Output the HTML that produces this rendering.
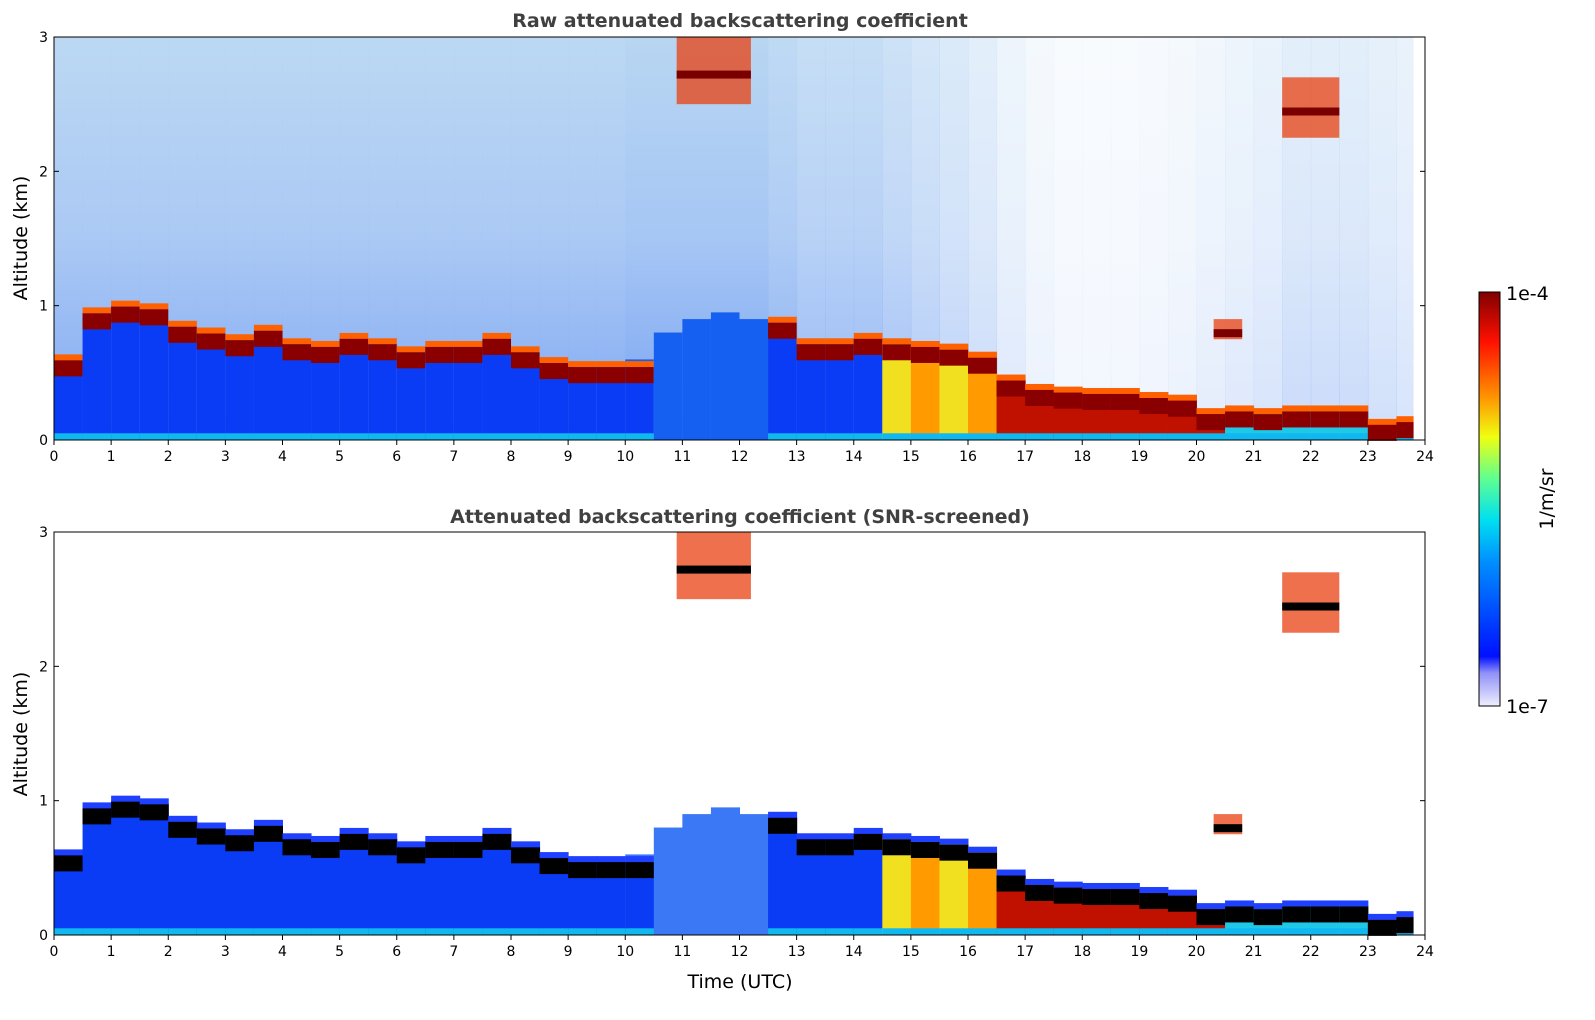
<!DOCTYPE html>
<html><head><meta charset="utf-8"><style>
body{margin:0;background:#fff;}
svg{display:block;font-family:"DejaVu Sans","Liberation Sans",sans-serif;}
</style></head><body>
<svg id="c" width="1595" height="1020" xmlns="http://www.w3.org/2000/svg">
<defs>
<linearGradient id="jet" x1="0" y1="1" x2="0" y2="0">
<stop offset="0" stop-color="#eeeefe"/><stop offset="0.08" stop-color="#9090f8"/>
<stop offset="0.12" stop-color="#0010ff"/><stop offset="0.35" stop-color="#0090ff"/>
<stop offset="0.45" stop-color="#00e0f0"/><stop offset="0.55" stop-color="#60ff90"/>
<stop offset="0.65" stop-color="#f0ff10"/><stop offset="0.75" stop-color="#ff9000"/>
<stop offset="0.88" stop-color="#ff1000"/><stop offset="1" stop-color="#800000"/>
</linearGradient>
<linearGradient id="noise" x1="0" y1="1" x2="0" y2="0">
<stop offset="0" stop-color="#7aa4f2"/><stop offset="0.5" stop-color="#a6c6f4"/><stop offset="1" stop-color="#b8d6f2"/>
</linearGradient>
</defs>
<g id="top"></g>
<g id="bot"></g>
<text x="740" y="27" text-anchor="middle" font-size="19" font-weight="bold" fill="#404040">Raw attenuated backscattering coefficient</text>
<text x="740" y="523" text-anchor="middle" font-size="19" font-weight="bold" fill="#404040">Attenuated backscattering coefficient (SNR-screened)</text>
<text transform="translate(27,238) rotate(-90)" text-anchor="middle" font-size="19">Altitude (km)</text>
<text transform="translate(27,734) rotate(-90)" text-anchor="middle" font-size="19">Altitude (km)</text>
<text x="740" y="988" text-anchor="middle" font-size="19">Time (UTC)</text>
<rect x="1479" y="292" width="21" height="414" fill="url(#jet)" stroke="#000"/>
<text x="1506" y="300" font-size="19">1e-4</text>
<text x="1506" y="713" font-size="19">1e-7</text>
<text transform="translate(1553,499) rotate(-90)" text-anchor="middle" font-size="19">1/m/sr</text>
</svg>
<script>
const times=[0,0.5,1,1.5,2,2.5,3,3.5,4,4.5,5,5.5,6,6.5,7,7.5,8,8.5,9,9.5,10,10.5,11,11.5,12,12.5,13,13.5,14,14.5,15,15.5,16,16.5,17,17.5,18,18.5,19,19.5,20,20.5,21,21.5,22,22.5,23,23.5];
const layerTop=[0.6,0.95,1.0,0.98,0.85,0.8,0.75,0.82,0.72,0.7,0.76,0.72,0.66,0.7,0.7,0.76,0.66,0.58,0.55,0.55,0.55,0,0,0,0,0.88,0.72,0.72,0.76,0.72,0.7,0.68,0.62,0.45,0.38,0.36,0.35,0.35,0.32,0.3,0.2,0.22,0.2,0.22,0.22,0.22,0.12,0.14];
const fillType=[0,0,0,0,0,0,0,0,0,0,0,0,0,0,0,0,0,0,0,0,0,0,0,0,0,0,0,0,0,1,2,1,2,3,3,3,3,3,3,3,3,4,4,4,4,4,3,3];
const noiseLevel=[0.95,0.95,0.95,0.95,0.95,0.95,0.95,0.95,0.95,0.95,0.95,0.95,0.95,0.95,0.95,0.95,0.95,0.95,0.95,0.95,1,1,1,1,1,0.9,0.8,0.8,0.8,0.7,0.6,0.5,0.4,0.25,0.15,0.1,0.1,0.1,0.12,0.15,0.2,0.25,0.3,0.4,0.4,0.4,0.35,0.3];
const boundaryBlue=[0,0,0,0,0,0,0,0,0,0,0,0,0,0,0,0,0,0,0,0,0.6,0.8,0.9,0.95,0.9,0,0,0,0,0,0,0,0,0,0,0,0,0,0,0,0,0,0,0,0,0,0,0];
const cloudT0=[10.9,21.5,20.3];
const cloudT1=[12.2,22.5,20.8];
const cloudH0=[2.5,2.25,0.75];
const cloudH1=[3.0,2.7,0.9];
const xTicks=[0,1,2,3,4,5,6,7,8,9,10,11,12,13,14,15,16,17,18,19,20,21,22,23,24];
const yTicks=[0,1,2,3];
const fillColors=["#0a3cf5","#f0e020","#ff9a00","#c01000","#20c8e8"];
const X0=54,X1=1425,PH=403;
const x=t=>X0+t*(X1-X0)/24;
const NS="http://www.w3.org/2000/svg";
function mk(p,tag,a){const e=document.createElementNS(NS,tag);for(const k in a)e.setAttribute(k,a[k]);p.appendChild(e);return e;}
function panel(g,yb,raw){
 const y=h=>yb-h*PH/3;
 for(let i=0;i<times.length;i++){
  const t0=times[i],t1=Math.min(times[i]+0.5,23.8),w=x(t1)-x(t0)+0.5;
  const lt=layerTop[i];
  if(raw){
   const n=mk(g,'rect',{x:x(t0),y:yb-PH,width:w,height:PH,fill:'url(#noise)','fill-opacity':noiseLevel[i]});
   
  }
  const bb=Math.max(boundaryBlue[i],lt);
  if(boundaryBlue[i]>0){
   const b=mk(g,'rect',{x:x(t0),y:y(bb),width:w,height:y(0)-y(bb),fill:raw?'#1560f0':'#3a78f5'});
   
  }
  if(lt>0){
   const f=mk(g,'rect',{x:x(t0),y:y(lt),width:w,height:y(0)-y(lt),fill:fillColors[fillType[i]]});
   
   const c=mk(g,'rect',{x:x(t0),y:y(0.05),width:w,height:y(0)-y(0.05),fill:'#10b8f0'});
   
   const o=mk(g,'rect',{x:x(t0),y:y(lt)-5,width:w,height:6,fill:raw?'#ff6000':'#2040ff'});
   
   const hgt=Math.min(16,y(0)-y(lt));
   const l=mk(g,'rect',{x:x(t0),y:y(lt)+1,width:w,height:hgt,fill:raw?'#8a0000':'#000'});
   
  }
 }
 for(let k=0;k<cloudT0.length;k++){
  const c=mk(g,'rect',{x:x(cloudT0[k]),y:y(cloudH1[k]),width:x(cloudT1[k])-x(cloudT0[k]),height:y(cloudH0[k])-y(cloudH1[k]),fill:'#e84010','fill-opacity':0.75});
  
  const d=mk(g,'rect',{x:x(cloudT0[k]),y:y((cloudH0[k]+cloudH1[k])/2),width:x(cloudT1[k])-x(cloudT0[k]),height:8,fill:raw?'#7a0000':'#000'});
  
 }
 mk(g,'rect',{x:x(23.8),y:yb-PH,width:X1-x(23.8),height:PH,fill:'#fff'});
 const fr=mk(g,'rect',{x:X0,y:yb-PH,width:X1-X0,height:PH,fill:'none',stroke:'#000','stroke-width':1});
 
 xTicks.forEach(v=>{
  mk(g,'line',{x1:x(v),x2:x(v),y1:yb,y2:yb+5,stroke:'#000'});
  const t=mk(g,'text',{x:x(v),y:yb+21,'text-anchor':'middle','font-size':14});t.textContent=v;
  
 });
 yTicks.forEach(v=>{
  mk(g,'line',{x1:X0,x2:X0+5,y1:y(v),y2:y(v),stroke:'#000'});
  mk(g,'line',{x1:X1,x2:X1-5,y1:y(v),y2:y(v),stroke:'#000'});
  const t=mk(g,'text',{x:X0-6,y:y(v)+5,'text-anchor':'end','font-size':14});t.textContent=v;
  
 });
}
panel(document.getElementById('top'),440,true);
panel(document.getElementById('bot'),935,false);
</script>
</body></html>
